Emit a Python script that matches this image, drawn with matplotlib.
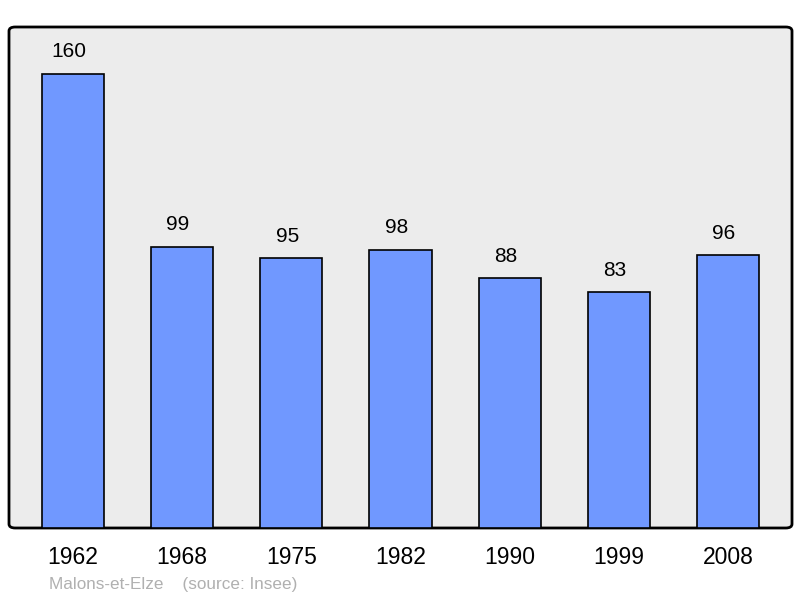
import matplotlib.pyplot as plt
from matplotlib.patches import FancyBboxPatch

plt.rcParams['font.family'] = ['Liberation Sans', 'DejaVu Sans']

years = ['1962', '1968', '1975', '1982', '1990', '1999', '2008']
population = [160, 99, 95, 98, 88, 83, 96]
commune = 'Malons-et-Elze'
source = '(source: Insee)'

fig = plt.figure(figsize=(8, 5.98), dpi=100)
ax = fig.add_axes([9 / 800, 70 / 598, 783 / 800, 501 / 598])
ax.set_facecolor('none')

# rounded frame behind everything
frame = FancyBboxPatch((0, 0), 1, 1, boxstyle='round,pad=0,rounding_size=0.008',
                       transform=ax.transAxes, facecolor='#ececec',
                       edgecolor='black', linewidth=2, zorder=0, clip_on=False)
ax.add_patch(frame)
for s in ax.spines.values():
    s.set_visible(False)

x = range(len(years))
bars = ax.bar(x, population, width=0.57, color='#7098ff', edgecolor='black',
              linewidth=1.2, zorder=2)
for xi, v in zip(x, population):
    ax.annotate(str(v), (xi, v), xytext=(-3, 9), textcoords='offset points',
                ha='center', va='bottom', fontsize=15)

ax.set_xlim(-0.585, len(years) - 1 + 0.585)
ax.set_ylim(0, 176.4)
ax.set_yticks([])
ax.set_xticks(list(x))
ax.set_xticklabels(years, fontsize=16.5)
ax.tick_params(axis='x', length=0, pad=13)

fig.text(49 / 800, 1 - 584 / 598, commune + '    ' + source, fontsize=12.3,
         color='#b0b0b0', va='center', ha='left')

fig.savefig('out.png', dpi=100)
